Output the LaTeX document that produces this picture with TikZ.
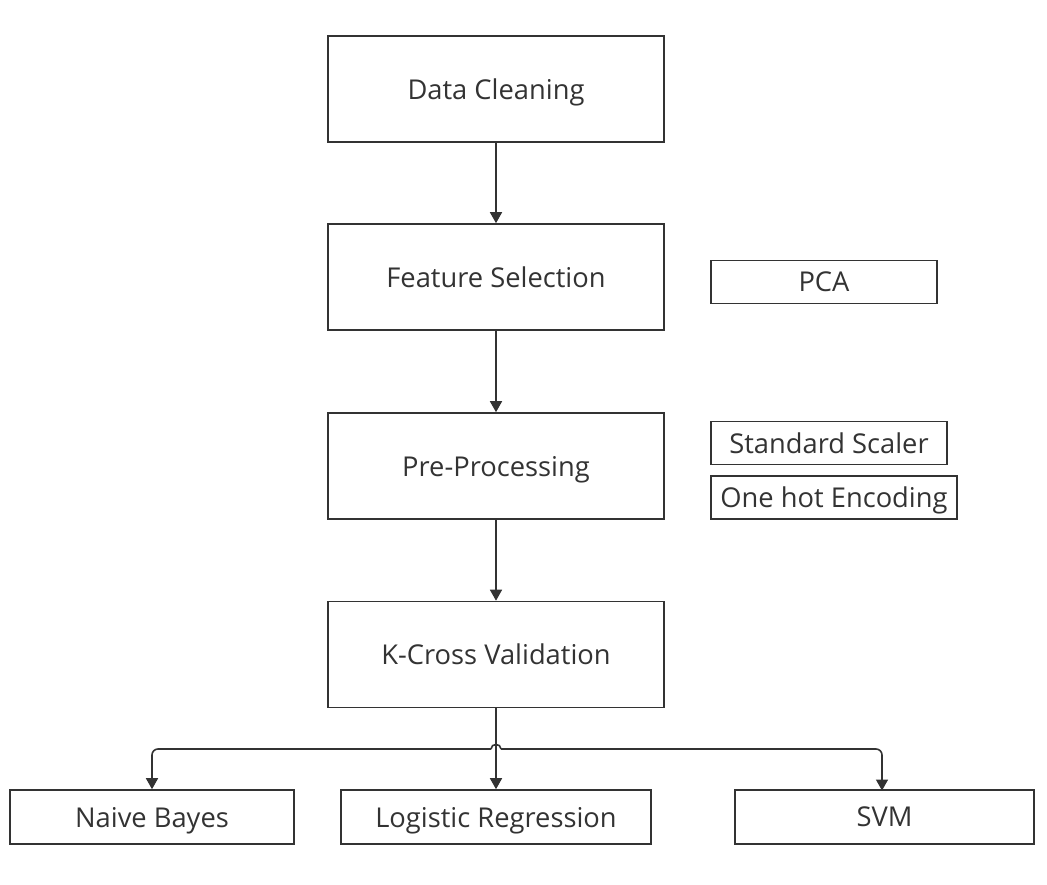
\documentclass[tikz,border=0pt]{standalone}
\usepackage{fontspec}
\setmainfont{Open Sans}
\usetikzlibrary{arrows.meta}
\definecolor{ink}{HTML}{333333}
\begin{document}
\begin{tikzpicture}[x=1pt,y=-1pt,
  box/.style={draw=ink, line width=1.6pt, text=ink, inner sep=0pt, text depth=0pt, font=\fontsize{27.3}{32}\selectfont, anchor=center},
  big/.style={box, minimum width=336pt, minimum height=106pt},
  small/.style={box, minimum height=43pt},
  leaf/.style={box, minimum height=54pt},
  conn/.style={draw=ink, line width=1.6pt, -{Triangle[length=11pt,width=12pt]}},
  line/.style={draw=ink, line width=1.6pt}
]
\useasboundingbox (0,0) rectangle (1047,885);
\node[big] (dc) at (496,89) {Data Cleaning};
\node[big] (fs) at (496,277) {Feature Selection};
\node[big] (pp) at (496,466) {Pre-Processing};
\node[big] (kc) at (496,654.5) {K-Cross Validation};
\node[small, minimum width=226pt] (pca) at (824,282) {PCA};
\node[small, minimum width=236pt] (ss) at (829,443) {Standard Scaler};
\node[small, minimum width=246pt] (oh) at (834,497.5) {One hot Encoding};
\node[leaf, minimum width=284pt] (nb) at (152,817) {Naive Bayes};
\node[leaf, minimum width=310pt] (lr) at (496,817) {Logistic Regression};
\node[leaf, minimum width=299pt] (svm) at (884.5,817) {SVM};
\draw[conn] (dc) -- (fs);
\draw[conn] (fs) -- (pp);
\draw[conn] (pp) -- (kc);
\draw[conn] (kc) -- (lr);
\coordinate (hl) at (491,749);
\coordinate (hr) at (501,749);
\draw[line] (hl) .. controls (491,743) and (501,743) .. (hr);
\draw[conn, rounded corners=6pt] (hl) -- (nb.north |- hl) -- (nb.north);
\draw[conn, rounded corners=6pt] (hr) -- (882,749) -- (882,790.5);
\end{tikzpicture}
\end{document}
